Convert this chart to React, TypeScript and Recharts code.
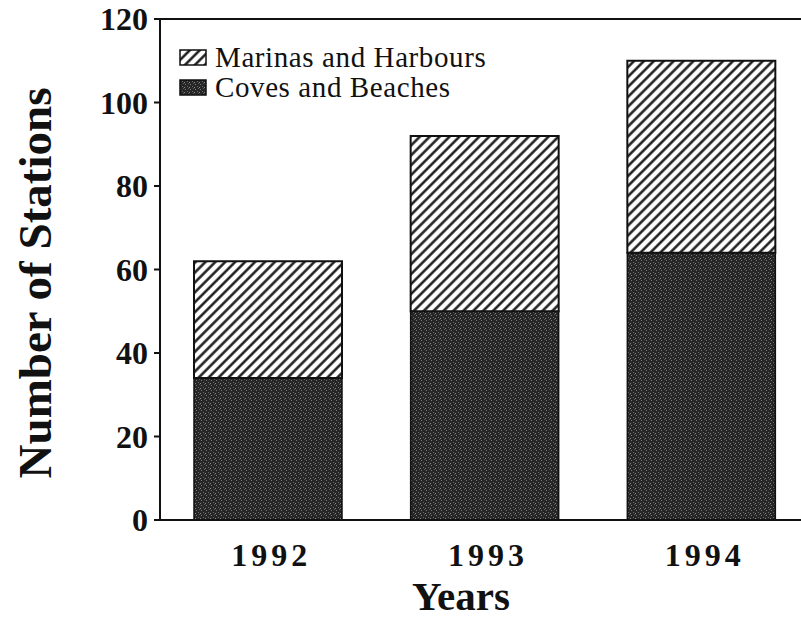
import React from 'react';
import { BarChart, Bar, XAxis, YAxis, ReferenceLine } from 'recharts';

const years = ['1992', '1993', '1994'];
const covesBeaches = [34, 50, 64];
const marinasHarbours = [28, 42, 46];
const yTicks = [0, 20, 40, 60, 80, 100, 120];
const seriesNames = ['Marinas and Harbours', 'Coves and Beaches'];

const data = years.map((year, i) => ({
  year,
  coves: covesBeaches[i],
  marinas: marinasHarbours[i],
}));

const serif = '"Liberation Serif", "Times New Roman", serif';

const Patterns: React.FC<{ prefix: string }> = ({ prefix }) => (
  <defs>
    <pattern
      id={`${prefix}-hatch`}
      patternUnits="userSpaceOnUse"
      width={7}
      height={7}
      patternTransform="rotate(45)"
    >
      <rect width={7} height={7} fill="#fff" />
      <line x1={1.5} y1={0} x2={1.5} y2={7} stroke="#111" strokeWidth={2.4} />
    </pattern>
    <pattern id={`${prefix}-dots`} patternUnits="userSpaceOnUse" width={5} height={5}>
      <rect width={5} height={5} fill="#262626" />
      <rect x={1} y={0} width={1} height={1} fill="#7a7a7a" />
      <rect x={3} y={2} width={1} height={1} fill="#6a6a6a" />
      <rect x={0} y={3} width={1} height={1} fill="#888" />
      <rect x={4} y={4} width={1} height={1} fill="#5a5a5a" />
    </pattern>
  </defs>
);

const YTitle = () => (
  <text
    transform="translate(51, 283) rotate(-90)"
    textAnchor="middle"
    fontFamily={serif}
    fontWeight="bold"
    fontSize={47}
    fill="#111"
  >
    Number of Stations
  </text>
);

const XTitle = () => (
  <text x={461} y={610} textAnchor="middle" fontFamily={serif} fontWeight="bold" fontSize={41} fill="#111">
    Years
  </text>
);

const ChartLegend = () => (
  <div style={{ position: 'absolute', left: 179, top: 42, fontFamily: serif, fontSize: 29, color: '#111' }}>
    {seriesNames.map((name, i) => (
      <div key={name} style={{ display: 'flex', alignItems: 'center', height: 30, letterSpacing: 0.6 }}>
        <svg width={28} height={17} style={{ marginRight: 8 }}>
          <Patterns prefix={`lg${i}`} />
          <rect
            x={1}
            y={1}
            width={26}
            height={15}
            fill={i === 0 ? `url(#lg${i}-hatch)` : `url(#lg${i}-dots)`}
            stroke="#111"
            strokeWidth={1.5}
          />
        </svg>
        <span>{name}</span>
      </div>
    ))}
  </div>
);

export default function App() {
  return (
    <div
      style={{
        position: 'absolute',
        left: 0,
        top: 0,
        width: 801,
        height: 636,
        overflow: 'hidden',
        background: '#fff',
      }}
    >
      <BarChart width={810} height={636} data={data} margin={{ top: 19, right: 0, left: 0, bottom: 0 }}>
        <Patterns prefix="ch" />
        <XAxis
          dataKey="year"
          height={116}
          axisLine={{ stroke: '#111', strokeWidth: 2 }}
          tickLine={false}
          tickSize={0}
          tickMargin={23}
          tick={{ fontFamily: serif, fontWeight: 'bold', fontSize: 32, fill: '#111', letterSpacing: 4, dx: 3 }}
          label={<XTitle />}
        />
        <YAxis
          width={160}
          domain={[0, 120]}
          ticks={yTicks}
          interval={0}
          axisLine={{ stroke: '#111', strokeWidth: 2 }}
          tickLine={{ stroke: '#111', strokeWidth: 2 }}
          tickSize={6}
          tickMargin={6}
          tick={{ fontFamily: serif, fontWeight: 'bold', fontSize: 32, fill: '#111' }}
          label={<YTitle />}
        />
        <ReferenceLine y={120} stroke="#111" strokeWidth={2} />
        <Bar
          dataKey="coves"
          stackId="a"
          barSize={148}
          fill="url(#ch-dots)"
          stroke="#111"
          strokeWidth={1.5}
          isAnimationActive={false}
        />
        <Bar
          dataKey="marinas"
          stackId="a"
          barSize={148}
          fill="url(#ch-hatch)"
          stroke="#111"
          strokeWidth={2}
          isAnimationActive={false}
        />
      </BarChart>
      <ChartLegend />
    </div>
  );
}
